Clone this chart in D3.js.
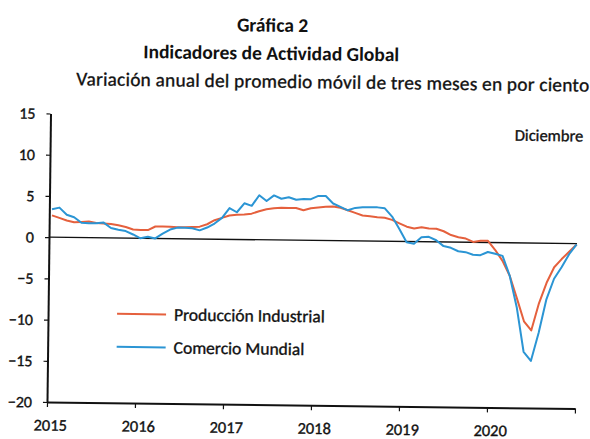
<!DOCTYPE html>
<html>
<head>
<meta charset="utf-8">
<script src="https://cdn.jsdelivr.net/npm/d3@7"></script>
<style>
  html, body { margin: 0; padding: 0; background: #fff; }
  svg { display: block; }
  text { font-family: Carlito, Lato, "Open Sans", sans-serif; fill: #111; }
  .heavy { stroke: #111; stroke-width: 0.35px; }
</style>
</head>
<body>
<div id="chart"></div>
<script>
// ---- data (monthly, Jan 2015 – Dec 2020) ----
const months = d3.timeMonth.range(new Date(2015, 0, 1), new Date(2021, 0, 1));

const produccionIndustrial = [
  2.65, 2.35, 2.05, 1.85, 1.9, 1.95, 1.8, 1.75, 1.7, 1.55, 1.35, 1.05,
  1.0, 1.0, 1.45, 1.45, 1.45, 1.4, 1.4, 1.45, 1.5, 1.8, 2.3, 2.6,
  2.9, 3.0, 3.05, 3.15, 3.45, 3.7, 3.85, 3.9, 3.9, 3.9, 3.65, 3.9,
  4.0, 4.1, 4.15, 4.0, 3.7, 3.4, 3.1, 3.0, 2.9, 2.85, 2.6, 2.2,
  1.8, 1.6, 1.75, 1.6, 1.6, 1.3, 0.85, 0.6, 0.45, 0.05, 0.2, 0.2,
  -0.9, -2.2, -4.0, -6.7, -9.5, -10.6, -7.3, -4.8, -2.9, -1.9, -1.0, -0.1
];

const comercioMundial = [
  3.4, 3.6, 2.75, 2.45, 1.8, 1.75, 1.75, 1.85, 1.2, 1.0, 0.85, 0.45,
  0.0, 0.2, 0.0, 0.6, 1.1, 1.35, 1.35, 1.3, 1.05, 1.4, 1.9, 2.6,
  3.8, 3.3, 4.4, 4.1, 5.4, 4.7, 5.4, 5.0, 5.2, 4.9, 5.0, 5.0,
  5.4, 5.4, 4.5, 4.1, 3.7, 4.0, 4.1, 4.1, 4.1, 4.0, 3.0, 1.5,
  -0.1, -0.25, 0.55, 0.6, 0.2, -0.5, -0.7, -1.1, -1.2, -1.5, -1.55, -1.15,
  -1.35, -1.6, -4.0, -7.8, -13.2, -14.3, -10.9, -6.8, -4.3, -2.9, -1.3, -0.1
];

const yTicks = [15, 10, 5, 0, -5, -10, -15, -20];
const yearTicks = [2015, 2016, 2017, 2018, 2019, 2020, 2021];
const yearLabels = ["2015", "2016", "2017", "2018", "2019", "2020", ""];

const seriesNames = ["Producción Industrial", "Comercio Mundial"];
const seriesColors = ["#e5603d", "#2b95d4"];

const titleLines = ["Gráfica 2", "Indicadores de Actividad Global"];
const subtitle = "Variación anual del promedio móvil de tres meses en por ciento";
const note = "Diciembre";

// ---- layout ----
const W = 590, H = 439;
const svg = d3.select("#chart").append("svg").attr("width", W).attr("height", H);
const g = svg.append("g").attr("transform", "rotate(0.7, 48, 237)");

const y = d3.scaleLinear().domain([-20, 15]).range([402, 113.5]);
const xYear = d3.scaleLinear().domain([2015, 2021]).range([49, 577]);
const xMonth = d3.scaleLinear().domain([0, months.length - 1]).range([51.7, 576.7]);

// titles
g.append("text").attr("x", 270).attr("y", 29).attr("text-anchor", "middle")
  .style("font-size", "19.5px").style("font-weight", "bold").text(titleLines[0]);
g.append("text").attr("x", 269).attr("y", 57).attr("text-anchor", "middle")
  .style("font-size", "19.5px").style("font-weight", "bold").text(titleLines[1]);
g.append("text").attr("class", "heavy").attr("x", 331).attr("y", 85).attr("text-anchor", "middle")
  .style("font-size", "19.3px").style("letter-spacing", "0.25px").text(subtitle);
g.append("text").attr("class", "heavy").attr("x", 582).attr("y", 135).attr("text-anchor", "end")
  .style("font-size", "16.5px").text(note);

// y axis
const yAxis = g.append("g").attr("transform", "translate(49,0)")
  .call(d3.axisLeft(y).tickValues(yTicks).tickSize(4).tickSizeOuter(0).tickPadding(11));
yAxis.select(".domain").attr("stroke", "#111").attr("stroke-width", 2);
yAxis.selectAll(".tick line").attr("stroke", "#111").attr("stroke-width", 1.2);
yAxis.selectAll(".tick text").attr("class", "heavy").style("font-size", "16px")
  .style("font-family", "Carlito, Lato, 'Open Sans', sans-serif").attr("fill", "#111");

// x axis
const xAxis = g.append("g").attr("transform", "translate(0,402)")
  .call(d3.axisBottom(xYear).tickValues(yearTicks)
    .tickFormat((d, i) => yearLabels[i]).tickSize(5).tickSizeOuter(0).tickPadding(12));
xAxis.select(".domain").attr("stroke", "#111").attr("stroke-width", 2);
xAxis.selectAll(".tick line").attr("stroke", "#111").attr("stroke-width", 1.2);
xAxis.selectAll(".tick text").attr("class", "heavy").attr("dx", 3).style("font-size", "16.5px")
  .style("font-family", "Carlito, Lato, 'Open Sans', sans-serif").attr("fill", "#111");

// zero line
g.append("line").attr("x1", xYear(2015)).attr("x2", xYear(2021))
  .attr("y1", y(0)).attr("y2", y(0)).attr("stroke", "#111").attr("stroke-width", 1.4);

// series
const line = d3.line().x((d, i) => xMonth(i)).y(d => y(d));
[produccionIndustrial, comercioMundial].forEach((s, k) => {
  g.append("path").datum(s).attr("d", line).attr("fill", "none")
    .attr("stroke", seriesColors[k]).attr("stroke-width", 2).attr("stroke-linejoin", "round");
});

// legend
const legY = [313, 346];
seriesNames.forEach((name, k) => {
  g.append("line").attr("x1", 118).attr("x2", 167).attr("y1", legY[k]).attr("y2", legY[k])
    .attr("stroke", seriesColors[k]).attr("stroke-width", 2);
  g.append("text").attr("class", "heavy").attr("x", 175).attr("y", legY[k] + 6)
    .style("font-size", "17.5px").text(name);
});
</script>
</body>
</html>
